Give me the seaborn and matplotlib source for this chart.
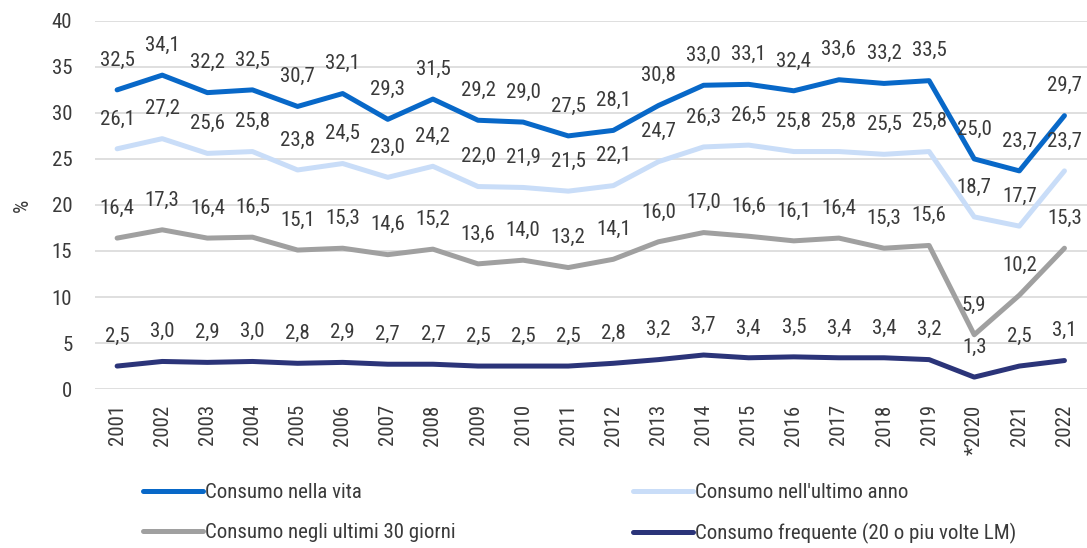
import matplotlib
matplotlib.use("Agg")
import matplotlib.pyplot as plt
import seaborn as sns
import pandas as pd
from matplotlib import font_manager

years = ["2001", "2002", "2003", "2004", "2005", "2006", "2007", "2008", "2009", "2010",
         "2011", "2012", "2013", "2014", "2015", "2016", "2017", "2018", "2019", "*2020",
         "2021", "2022"]
vita = [32.5, 34.1, 32.2, 32.5, 30.7, 32.1, 29.3, 31.5, 29.2, 29.0, 27.5, 28.1, 30.8,
        33.0, 33.1, 32.4, 33.6, 33.2, 33.5, 25.0, 23.7, 29.7]
ultimo_anno = [26.1, 27.2, 25.6, 25.8, 23.8, 24.5, 23.0, 24.2, 22.0, 21.9, 21.5, 22.1, 24.7,
               26.3, 26.5, 25.8, 25.8, 25.5, 25.8, 18.7, 17.7, 23.7]
ultimi_30 = [16.4, 17.3, 16.4, 16.5, 15.1, 15.3, 14.6, 15.2, 13.6, 14.0, 13.2, 14.1, 16.0,
             17.0, 16.6, 16.1, 16.4, 15.3, 15.6, 5.9, 10.2, 15.3]
frequente = [2.5, 3.0, 2.9, 3.0, 2.8, 2.9, 2.7, 2.7, 2.5, 2.5, 2.5, 2.8, 3.2,
             3.7, 3.4, 3.5, 3.4, 3.4, 3.2, 1.3, 2.5, 3.1]
series_names = ["Consumo nella vita", "Consumo nell'ultimo anno",
                "Consumo negli ultimi 30 giorni", "Consumo frequente (20 o piu volte LM)"]
colors = ["#0868C8", "#C9DDF8", "#A0A0A0", "#2B3479"]

sns.set_theme(style="white")
names = {f.name for f in font_manager.fontManager.ttflist}
family = [f for f in ["Liberation Sans Narrow", "Roboto Condensed", "Roboto"] if f in names]
plt.rcParams["font.family"] = family + ["DejaVu Sans"]

text_color = "#3A3A3A"
fs = 15
values = [vita, ultimo_anno, ultimi_30, frequente]
df = pd.concat([
    pd.DataFrame({"anno": years, "valore": v, "serie": n})
    for v, n in zip(values, series_names)
], ignore_index=True)

fig = plt.figure(figsize=(10.87, 5.48), dpi=100)
ax = fig.add_axes([0.087, 0.290, 0.913, 0.672])

sns.lineplot(data=df, x="anno", y="valore", hue="serie", hue_order=series_names,
             palette=colors, linewidth=3.6, sort=False, ax=ax, legend=True)

for v in values:
    for i, val in enumerate(v):
        ax.annotate(f"{val:.1f}".replace(".", ","), (i, val), xytext=(0, 21.5),
                    textcoords="offset points", ha="center", va="center",
                    fontsize=fs, color=text_color)

ax.set_ylim(0, 40)
ax.set_xlim(-0.5, len(years) - 0.5)
ax.set_yticks(range(0, 41, 5))
ax.yaxis.grid(True, color="#D9D9D9", linewidth=1.2)
ax.set_axisbelow(True)
for s in ax.spines.values():
    s.set_visible(False)
ax.tick_params(axis="y", labelsize=fs, labelcolor=text_color, pad=16, length=0)
ax.tick_params(axis="x", labelsize=fs, labelcolor=text_color, pad=11, length=0,
               labelrotation=90)
ax.set_xlabel("")
ax.set_ylabel("%", fontsize=fs, color=text_color, labelpad=14)

# two rows: lifetime / last year on top, last 30 days / frequent below
handles, labels = ax.get_legend_handles_labels()
order = [0, 2, 1, 3]
ax.legend([handles[i] for i in order], [labels[i] for i in order],
          loc="upper left", bbox_to_anchor=(0.114, 0.152), bbox_transform=fig.transFigure,
          ncol=2, frameon=False, fontsize=fs, handlelength=2.9, handletextpad=0.1,
          columnspacing=8.5, labelspacing=1.0, labelcolor=text_color)

fig.savefig("out.png", dpi=100)
